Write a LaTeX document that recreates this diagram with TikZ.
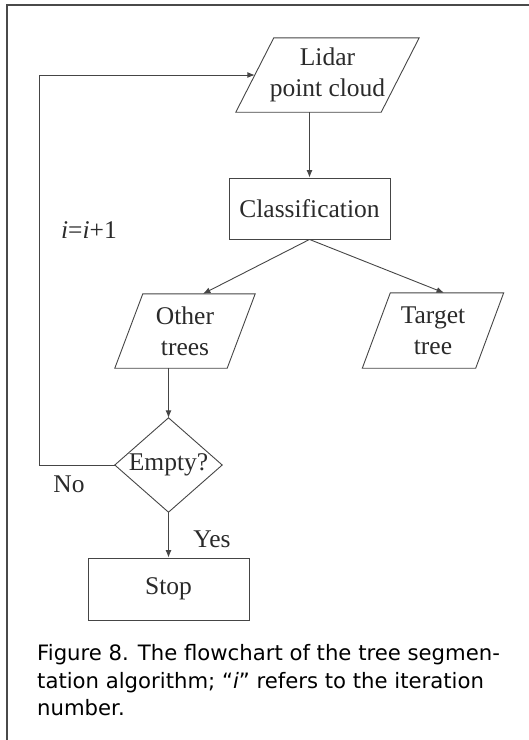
\documentclass[tikz,border=0pt]{standalone}
\usepackage{fontspec}
\setmainfont{Liberation Serif}
\newfontfamily\capfont{DejaVu Sans}
\usetikzlibrary{arrows.meta}
\definecolor{linec}{HTML}{454545}
\definecolor{textc}{HTML}{2A2A2A}
\definecolor{framec}{HTML}{4A4A4A}
\tikzset{
  box/.style={draw=linec, line width=0.9pt, minimum width=161pt, minimum height=61pt, inner sep=0pt, text=textc, font=\fontsize{25.5}{31}\selectfont, align=center},
  pbox/.style={draw=none, inner sep=0pt, text=textc, font=\fontsize{25.5}{31}\selectfont, align=center},
  shapeline/.style={draw=linec, line width=0.9pt},
  arr/.style={draw=linec, line width=0.9pt, -{Latex[length=7.5pt,width=6pt]}},
  lbl/.style={text=textc, font=\fontsize{25.5}{31}\selectfont, inner sep=0pt},
  captext/.style={text=black, font=\capfont\fontsize{21.2}{28}\selectfont, inner sep=0pt, anchor=base west},
}
\newcommand{\mypara}[2]{\draw[shapeline] ([xshift=#2pt]#1.north west) -- ([xshift=#2pt]#1.north east) -- ([xshift=-#2pt]#1.south east) -- ([xshift=-#2pt]#1.south west) -- cycle;}
\begin{document}
\begin{tikzpicture}[x=1pt,y=-1pt]
\useasboundingbox (0,0) rectangle (529,740);
% frame
\draw[framec, line width=2pt] (6.5,740) -- (6.5,4.5) -- (529,4.5);
% nodes
\node[pbox, minimum width=145pt, minimum height=74pt] (lidar) at (327.5,75) {Lidar\\point cloud};
\mypara{lidar}{19}
\node[box] (class) at (309.5,208.5) {Classification};
\node[pbox, minimum width=112pt, minimum height=74pt] (other) at (185,331) {Other\\trees};
\mypara{other}{14}
\node[pbox, minimum width=113pt, minimum height=75pt] (target) at (433,330.5) {Target\\tree};
\mypara{target}{14}
\node[pbox, minimum width=107pt, minimum height=94pt] (empty) at (168.5,465) {Empty?};
\draw[shapeline] (empty.north) -- (empty.east) -- (empty.south) -- (empty.west) -- cycle;
\node[box, minimum height=62pt] (stop) at (168.5,589) {Stop};
% connectors
\draw[arr] (class.north |- lidar.south) -- (class.north);
\draw[arr] (class.south) -- ([xshift=18pt]other.north);
\draw[arr] (class.south) -- ([xshift=11pt]target.north);
\draw[arr] (empty.north |- other.south) -- (empty.north);
\draw[arr] (empty.south) -- (stop.north);
\draw[arr] (empty.west) -- ++(-75,0) |- (lidar.west);
% labels
\node[lbl] (inc) at (89,230) {\textit{i}=\textit{i}+1};
\node[lbl] (no) at (69,484) {No};
\node[lbl] (yes) at (212,539) {Yes};
% caption
\node[captext] (cap1) at (37,660) {Figure 8. The flowchart of the tree segmen-};
\node[captext] (cap2) at (37,688) {tation algorithm; “\textit{i}” refers to the iteration};
\node[captext] (cap3) at (37,715) {number.};
\end{tikzpicture}
\end{document}
